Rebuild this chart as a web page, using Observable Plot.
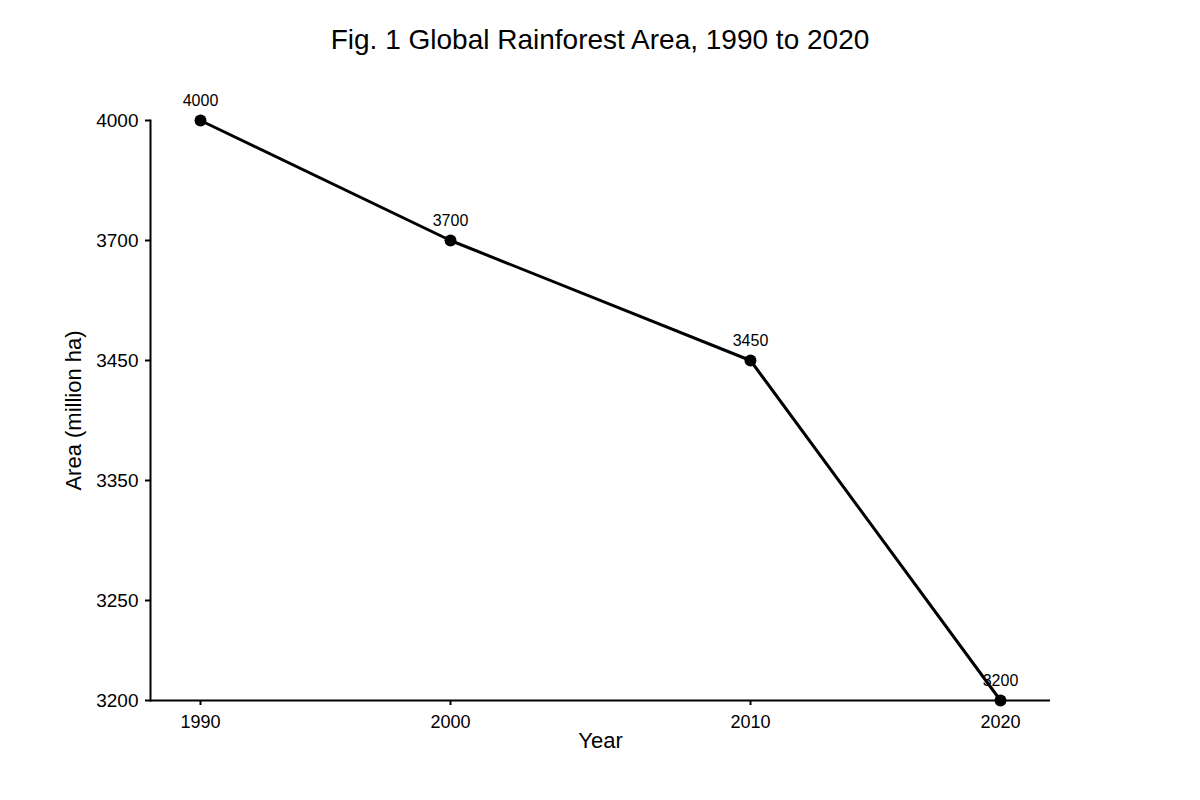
<!DOCTYPE html>
<html>
<head>
<meta charset="utf-8">
<script src="https://cdn.jsdelivr.net/npm/d3@7"></script>
<script src="https://cdn.jsdelivr.net/npm/@observablehq/plot@0.6"></script>
<style>
  html, body { margin: 0; padding: 0; background: #fff; }
  body { width: 1200px; font-family: "Liberation Sans", Arial, sans-serif; }
  #title { height: 80px; line-height: 80px; text-align: center; font-size: 28px; color: #000; }
  #chart svg { display: block; }
</style>
</head>
<body>
<div id="title">Fig. 1 Global Rainforest Area, 1990 to 2020</div>
<div id="chart"></div>
<script>
const years = [1990, 2000, 2010, 2020];
const area = [4000, 3700, 3450, 3200];
const yTicks = [3200, 3250, 3350, 3450, 3700, 4000];
const xLabel = "Year";
const yLabel = "Area (million ha)";

const data = years.map((y, i) => ({year: y, area: area[i]}));

const chart = Plot.plot({
  width: 1200,
  height: 720,
  marginLeft: 150,
  marginRight: 150,
  marginTop: 40,
  marginBottom: 100,
  style: {fontFamily: "'Liberation Sans', Arial, sans-serif", color: "#000", background: "#fff"},
  x: {type: "linear", domain: years, range: [200, 450, 750, 1000]},
  y: {type: "linear", domain: yTicks, range: [620, 520, 400, 280, 160, 40]},
  marks: [
    Plot.frame({anchor: "left", stroke: "#000", strokeWidth: 2}),
    Plot.ruleY([yTicks[0]], {stroke: "#000", strokeWidth: 2}),
    Plot.axisY({ticks: yTicks, tickFormat: d => String(d), tickSize: 5, tickPadding: 7, fontSize: 19, label: null, strokeWidth: 2}),
    Plot.axisX({ticks: years, tickFormat: d => String(d), tickSize: 5, tickPadding: 10, fontSize: 18, label: null, strokeWidth: 2}),
    Plot.text([xLabel], {frameAnchor: "bottom", dy: 47, fontSize: 22, fill: "#000"}),
    Plot.text([yLabel], {frameAnchor: "left", textAnchor: "middle", rotate: -90, dx: -77, fontSize: 22, fill: "#000"}),
    Plot.text(data, {x: "year", y: "area", text: d => String(d.area), dy: -20, fontSize: 16, fill: "#000"}),
    Plot.line(data, {x: "year", y: "area", stroke: "#000", strokeWidth: 3}),
    Plot.dot(data, {x: "year", y: "area", r: 6, fill: "#000", stroke: "none"})
  ]
});
document.getElementById("chart").appendChild(chart);
</script>
</body>
</html>
